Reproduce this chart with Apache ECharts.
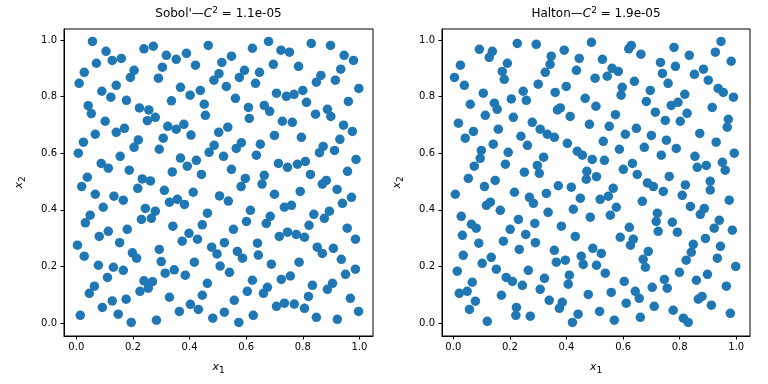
<!DOCTYPE html>
<html>
<head>
<meta charset="utf-8">
<script src="https://cdn.jsdelivr.net/npm/echarts@6/dist/echarts.min.js"></script>
<style>html,body{margin:0;padding:0;background:#fff}#c{width:768px;height:384px}</style>
</head>
<body>
<div id="c"></div>
<script>
// Sobol' panel points
const sobolX = [0.057,0.239,0.272,0.466,0.105,0.127,0.159,0.071,0.318,0.353,0.389,0.421,0.028,0.010,0.204,0.191,0.304,0.290,0.504,0.486,0.090,0.141,0.122,0.177,0.368,0.402,0.438,0.336,0.452,0.456,0.042,0.053,0.223,0.256,0.279,0.251,0.102,0.067,0.141,0.170,0.323,0.353,0.380,0.405,0.503,0.025,0.007,0.219,0.204,0.307,0.293,0.487,0.469,0.520,0.155,0.088,0.113,0.187,0.368,0.392,0.424,0.339,0.442,0.039,0.233,0.262,
0.679,0.830,0.898,0.622,0.723,0.753,0.548,0.514,0.946,0.979,0.696,0.785,0.594,0.576,0.647,0.633,0.864,0.848,0.934,0.915,0.530,0.998,0.707,0.742,0.769,0.800,0.562,0.813,0.961,0.608,0.664,0.683,0.611,0.887,0.899,0.845,0.728,0.763,0.944,0.975,0.535,0.700,0.795,0.931,0.583,0.565,0.650,0.636,0.872,0.859,0.912,0.714,0.746,0.781,0.809,0.988,0.548,0.597,0.664,0.827,0.958,0.883,
0.019,0.217,0.311,0.413,0.067,0.133,0.166,0.095,0.244,0.279,0.329,0.357,0.382,0.049,0.032,0.230,0.265,0.463,0.445,0.341,0.113,0.081,0.180,0.153,0.398,0.428,0.374,0.004,0.028,0.198,0.213,0.293,0.478,0.300,0.417,0.078,0.131,0.166,0.110,0.314,0.346,0.385,0.239,0.269,0.254,0.225,0.064,0.046,0.463,0.445,0.329,0.127,0.176,0.092,0.148,0.014,0.194,0.283,0.364,0.403,0.431,0.482,
0.582,0.656,0.869,0.921,0.506,0.537,0.700,0.791,0.972,0.940,0.735,0.760,0.615,0.685,0.671,0.601,0.839,0.894,0.876,0.555,0.822,0.957,0.717,0.746,0.777,0.806,0.986,0.523,0.640,0.497,0.569,0.587,0.643,0.851,0.869,0.908,0.936,0.508,0.541,0.689,0.787,0.951,0.986,0.622,0.724,0.756,0.834,0.905,0.887,0.604,0.661,0.675,0.558,0.820,0.968,0.707,0.735,0.770,0.806,0.523,0.625,0.574,0.848,0.922,0.997];
const sobolY = [0.995,0.969,0.978,0.981,0.960,0.928,0.935,0.918,0.946,0.932,0.953,0.911,0.886,0.847,0.893,0.868,0.904,0.865,0.881,0.858,0.819,0.840,0.798,0.787,0.833,0.805,0.822,0.785,0.773,0.734,0.768,0.740,0.760,0.753,0.727,0.715,0.713,0.667,0.674,0.688,0.695,0.685,0.702,0.664,0.674,0.639,0.600,0.647,0.621,0.653,0.614,0.628,0.603,0.589,0.589,0.564,0.547,0.540,0.583,0.554,0.575,0.534,0.525,0.515,0.509,0.502,
0.995,0.988,0.981,0.971,0.964,0.957,0.943,0.921,0.946,0.928,0.914,0.907,0.893,0.868,0.886,0.847,0.875,0.851,0.897,0.858,0.836,0.829,0.812,0.801,0.808,0.822,0.794,0.780,0.783,0.762,0.769,0.748,0.723,0.755,0.730,0.738,0.713,0.709,0.699,0.677,0.692,0.663,0.656,0.649,0.637,0.617,0.632,0.593,0.624,0.602,0.610,0.564,0.550,0.561,0.571,0.578,0.543,0.511,0.522,0.525,0.536,0.504,
0.482,0.476,0.469,0.462,0.455,0.448,0.434,0.409,0.405,0.395,0.427,0.437,0.419,0.381,0.354,0.366,0.370,0.388,0.347,0.342,0.324,0.306,0.331,0.284,0.317,0.296,0.289,0.275,0.236,0.248,0.229,0.260,0.268,0.217,0.215,0.204,0.197,0.186,0.161,0.176,0.188,0.169,0.149,0.146,0.123,0.112,0.130,0.105,0.140,0.098,0.091,0.078,0.084,0.055,0.031,0.027,0.002,0.010,0.041,0.066,0.048,0.017,
0.482,0.491,0.491,0.472,0.449,0.431,0.455,0.465,0.444,0.423,0.409,0.416,0.398,0.377,0.352,0.359,0.384,0.395,0.370,0.331,0.345,0.335,0.306,0.321,0.313,0.303,0.296,0.284,0.282,0.244,0.253,0.229,0.240,0.268,0.246,0.264,0.225,0.201,0.179,0.208,0.215,0.172,0.190,0.151,0.154,0.166,0.133,0.140,0.119,0.112,0.105,0.126,0.080,0.094,0.087,0.059,0.070,0.067,0.052,0.038,0.027,0.002,0.020,0.013,0.041];

// Halton panel points
const haltonX = [0.226,0.293,0.488,0.092,0.138,0.127,0.191,0.346,0.342,0.392,0.445,0.435,0.025,0.004,0.039,0.173,0.180,0.325,0.300,0.501,0.106,0.247,0.258,0.205,0.145,0.155,0.060,0.360,0.399,0.466,0.504,0.368,0.378,0.413,0.113,0.212,0.018,0.279,0.481,0.159,0.071,0.042,0.307,0.332,0.357,0.239,0.262,0.141,0.403,0.099,0.095,0.194,0.438,0.456,0.491,0.319,0.074,0.184,0.297,0.304,0.251,0.472,0.470,0.053,0.148,0.506,
0.620,0.629,0.663,0.780,0.834,0.946,0.926,0.982,0.527,0.561,0.583,0.544,0.732,0.739,0.785,0.759,0.852,0.884,0.901,0.640,0.597,0.593,0.696,0.682,0.818,0.794,0.770,0.936,0.954,0.990,0.915,0.573,0.714,0.749,0.802,0.826,0.972,0.968,0.551,0.647,0.608,0.700,0.871,0.530,0.753,0.788,0.675,0.587,0.929,0.993,0.735,0.854,0.534,0.633,0.601,0.650,0.862,0.894,0.951,0.961,0.763,0.686,0.820,0.908,
0.007,0.110,0.216,0.269,0.283,0.329,0.371,0.417,0.449,0.117,0.131,0.166,0.335,0.424,0.028,0.064,0.081,0.230,0.201,0.288,0.256,0.290,0.382,0.484,0.431,0.032,0.090,0.177,0.233,0.357,0.493,0.035,0.134,0.102,0.364,0.396,0.452,0.459,0.506,0.014,0.152,0.265,0.187,0.209,0.244,0.322,0.410,0.406,0.067,0.021,0.049,0.307,0.170,0.477,0.078,0.057,0.339,0.385,0.375,0.223,0.221,0.517,0.120,0.272,0.441,0.421,
0.565,0.707,0.742,0.908,0.519,0.548,0.668,0.809,0.975,0.576,0.555,0.721,0.717,0.838,0.887,0.873,0.940,0.622,0.590,0.636,0.626,0.724,0.774,0.792,0.922,0.986,0.891,0.848,0.841,0.944,0.523,0.689,0.671,0.679,0.823,0.933,0.998,0.537,0.799,0.898,0.604,0.746,0.859,0.558,0.643,0.657,0.703,0.756,0.965,0.866,0.879,0.611,0.710,0.912,0.777,0.979,0.569,0.661,0.813,0.830];
const haltonY = [0.988,0.985,0.992,0.967,0.960,0.939,0.918,0.943,0.914,0.964,0.935,0.893,0.911,0.868,0.840,0.889,0.861,0.886,0.844,0.865,0.812,0.819,0.787,0.792,0.777,0.755,0.773,0.815,0.836,0.794,0.766,0.753,0.760,0.730,0.734,0.727,0.706,0.709,0.702,0.685,0.677,0.653,0.685,0.667,0.656,0.660,0.628,0.632,0.635,0.610,0.582,0.603,0.607,0.593,0.578,0.586,0.554,0.561,0.557,0.529,0.533,0.536,0.508,0.511,0.504,0.517,
0.969,0.981,0.950,0.974,0.946,0.995,0.957,0.925,0.932,0.900,0.889,0.872,0.921,0.882,0.907,0.847,0.879,0.897,0.858,0.854,0.833,0.805,0.822,0.783,0.808,0.780,0.769,0.829,0.815,0.798,0.762,0.736,0.745,0.716,0.713,0.741,0.720,0.692,0.695,0.688,0.667,0.663,0.670,0.642,0.646,0.617,0.621,0.614,0.639,0.600,0.593,0.589,0.575,0.564,0.543,0.525,0.550,0.557,0.568,0.540,0.518,0.495,0.488,0.501,
0.455,0.482,0.462,0.444,0.423,0.458,0.485,0.480,0.441,0.416,0.427,0.398,0.391,0.402,0.377,0.349,0.335,0.366,0.331,0.352,0.313,0.284,0.342,0.374,0.306,0.310,0.282,0.289,0.260,0.257,0.264,0.239,0.232,0.211,0.215,0.222,0.236,0.207,0.204,0.183,0.190,0.186,0.161,0.147,0.133,0.158,0.169,0.137,0.144,0.105,0.112,0.119,0.098,0.101,0.077,0.048,0.080,0.073,0.052,0.055,0.027,0.041,0.006,0.024,0.031,0.002,
0.476,0.482,0.465,0.470,0.437,0.448,0.430,0.451,0.434,0.409,0.381,0.388,0.359,0.412,0.405,0.384,0.363,0.338,0.303,0.296,0.275,0.324,0.356,0.321,0.335,0.328,0.299,0.278,0.250,0.271,0.246,0.253,0.225,0.197,0.222,0.229,0.200,0.176,0.179,0.172,0.147,0.154,0.151,0.108,0.112,0.087,0.126,0.123,0.130,0.084,0.094,0.070,0.059,0.063,0.045,0.034,0.010,0.020,0.017,0.002];

const tickValues = [0.0, 0.2, 0.4, 0.6, 0.8, 1.0];
const panelTitles = [
  {name: "Sobol'", disc: '1.1e-05'},
  {name: 'Halton', disc: '1.9e-05'}
];

const FONT = 'DejaVu Sans';
const COLOR = '#1f77b4';

function zip(xs, ys) { return xs.map((x, i) => [x, ys[i]]); }

const grids = [
  {left: 64, top: 29, width: 309, height: 307},
  {left: 442, top: 29, width: 308, height: 307}
];
const xRanges = [[-0.0435, 1.048], [-0.040, 1.0485]];
const yRange = [-0.046, 1.039];

const richName = {
  i: {fontFamily: FONT, fontStyle: 'italic', fontSize: 11, color: '#000'},
  sub: {fontFamily: FONT, fontSize: 9, color: '#000', verticalAlign: 'bottom', padding: [6, 0, 0, 0]}
};

function xAxisFor(i) {
  return {
    type: 'value', gridIndex: i, min: xRanges[i][0], max: xRanges[i][1],
    splitLine: {show: false},
    axisLine: {show: true, onZero: false, lineStyle: {color: '#000', width: 1}},
    axisTick: {show: true, length: 3.5, lineStyle: {color: '#000'}, customValues: tickValues},
    axisLabel: {show: true, customValues: tickValues, fontFamily: FONT, fontSize: 10, color: '#000', margin: 6,
      formatter: v => v.toFixed(1)},
    name: '{i|x}{sub|1}', nameLocation: 'middle', nameGap: 24,
    nameTextStyle: {rich: richName}
  };
}
function yAxisFor(i) {
  return {
    type: 'value', gridIndex: i, min: yRange[0], max: yRange[1],
    splitLine: {show: false},
    axisLine: {show: true, onZero: false, lineStyle: {color: '#000', width: 1}},
    axisTick: {show: true, length: 3.5, lineStyle: {color: '#000'}, customValues: tickValues},
    axisLabel: {show: true, customValues: tickValues, fontFamily: FONT, fontSize: 10, color: '#000', margin: 7,
      formatter: v => v.toFixed(1)},
    name: '{i|x}{sub|2}', nameLocation: 'middle', nameGap: 37, nameRotate: 90,
    nameTextStyle: {rich: richName}
  };
}

const chart = echarts.init(document.getElementById('c'), null, {renderer: 'canvas'});
chart.setOption({
  animation: false,
  backgroundColor: '#fff',
  grid: grids.map(g => Object.assign({show: true, borderColor: '#000', borderWidth: 1, backgroundColor: '#fff'}, g)),
  xAxis: [xAxisFor(0), xAxisFor(1)],
  yAxis: [yAxisFor(0), yAxisFor(1)],
  graphic: panelTitles.map((t, i) => ({
    type: 'text',
    x: grids[i].left + grids[i].width / 2,
    y: 14,
    style: {
      text: t.name + '\u2014{i|C}{sup|2} = ' + t.disc,
      fontFamily: FONT, fontSize: 12, fill: '#000',
      align: 'center', verticalAlign: 'middle',
      rich: {
        i: {fontFamily: FONT, fontStyle: 'italic', fontSize: 12, fill: '#000'},
        sup: {fontFamily: FONT, fontSize: 9, fill: '#000', padding: [0, 0, 7, 0]}
      }
    }
  })),
  series: [
    {type: 'scatter', xAxisIndex: 0, yAxisIndex: 0, data: zip(sobolX, sobolY), symbolSize: 9.5,
      itemStyle: {color: COLOR, opacity: 1}, silent: true},
    {type: 'scatter', xAxisIndex: 1, yAxisIndex: 1, data: zip(haltonX, haltonY), symbolSize: 9.5,
      itemStyle: {color: COLOR, opacity: 1}, silent: true}
  ]
});
</script>
</body>
</html>
